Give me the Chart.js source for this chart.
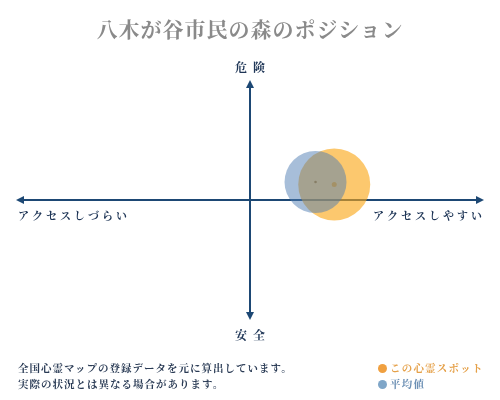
<!DOCTYPE html>
<html>
<head>
<meta charset="utf-8">
<script src="https://cdn.jsdelivr.net/npm/chart.js@4"></script>
<style>
  html, body { margin:0; padding:0; background:#fff; }
  #wrap { position:relative; width:500px; height:400px; overflow:hidden; }
  canvas { position:absolute; left:0; top:0; }
  .t { position:absolute; font-family:"Noto Serif CJK JP","Noto Sans CJK JP",serif; white-space:nowrap; }
  #title { left:0; width:500px; top:13px; text-align:center; font-size:21px; font-weight:bold; color:#8a8a8a; letter-spacing:1px; }
  #note { left:18px; top:360px; font-size:10.5px; font-weight:bold; color:#2a3b55; line-height:16px; letter-spacing:1px; }
  #legend { left:378px; top:360px; font-size:10.5px; line-height:16px; letter-spacing:1.2px; font-weight:bold; }
  .dot { display:inline-block; width:9px; height:9px; border-radius:50%; margin-right:3px; vertical-align:-1px; }
</style>
</head>
<body>
<div id="wrap">
  <canvas id="c" width="500" height="400"></canvas>
  <div class="t" id="title"></div>
  <div class="t" id="note"></div>
  <div class="t" id="legend"></div>
</div>
<script>
// ---- data ----
const chartTitle = "八木が谷市民の森のポジション";
const seriesNames = ["この心霊スポット", "平均値"];
const xValues = [0.36, 0.28];   // アクセスしづらい(-1) ... アクセスしやすい(+1)
const yValues = [0.13, 0.15];   // 安全(-1) ... 危険(+1)
const bubbleSizes = [36, 31];
const axisLabels = { top: "危険", bottom: "安全", left: "アクセスしづらい", right: "アクセスしやすい" };
const noteLines = ["全国心霊マップの登録データを元に算出しています。", "実際の状況とは異なる場合があります。"];

// ---- styles ----
const fillColors = ["rgba(250,166,21,0.62)", "rgba(80,125,180,0.5)"];
const dotColors = ["#f6a21e", "#5a3a1a"];
const dotSizes = [2.5, 1.3];
const legendDot = ["#f0a040", "#7fa6c8"];
const legendText = ["#e5a048", "#6b8fb4"];
const navy = "#1d4874";

document.getElementById("title").textContent = chartTitle;
document.getElementById("note").innerHTML = noteLines.join("<br>");
document.getElementById("legend").innerHTML = seriesNames.map((n, i) =>
  `<div style="color:${legendText[i]}"><span class="dot" style="background:${legendDot[i]}"></span>${n}</div>`).join("");

const order = [1, 0]; // draw average first, this spot on top
const datasets = [];
order.forEach(i => datasets.push({
  label: seriesNames[i],
  data: [{ x: xValues[i], y: yValues[i], r: bubbleSizes[i] }],
  backgroundColor: fillColors[i], borderWidth: 0
}));
order.forEach(i => datasets.push({
  label: seriesNames[i] + " center",
  data: [{ x: xValues[i], y: yValues[i], r: dotSizes[i] }],
  backgroundColor: dotColors[i], borderWidth: 0
}));

const axesPlugin = {
  id: "cross",
  beforeDatasetsDraw(chart) {
    const ctx = chart.ctx, xs = chart.scales.x, ys = chart.scales.y;
    const cx = xs.getPixelForValue(0), cy = ys.getPixelForValue(0);
    const l = xs.getPixelForValue(-1), r = xs.getPixelForValue(1);
    const t = ys.getPixelForValue(1), b = ys.getPixelForValue(-1);
    ctx.save();
    ctx.strokeStyle = navy; ctx.fillStyle = navy; ctx.lineWidth = 2;
    ctx.beginPath();
    ctx.moveTo(l + 4, cy); ctx.lineTo(r - 4, cy);
    ctx.moveTo(cx, t + 4); ctx.lineTo(cx, b - 4);
    ctx.stroke();
    const tri = (pts) => { ctx.beginPath(); ctx.moveTo(...pts[0]); ctx.lineTo(...pts[1]); ctx.lineTo(...pts[2]); ctx.closePath(); ctx.fill(); };
    tri([[l, cy], [l + 8, cy - 4], [l + 8, cy + 4]]);
    tri([[r, cy], [r - 8, cy - 4], [r - 8, cy + 4]]);
    tri([[cx, t], [cx - 4, t + 8], [cx + 4, t + 8]]);
    tri([[cx, b], [cx - 4, b - 8], [cx + 4, b - 8]]);
    // labels
    ctx.fillStyle = "#1e3556";
    ctx.textBaseline = "middle";
    ctx.font = 'bold 12px "Noto Serif CJK JP","Noto Sans CJK JP",serif';
    ctx.letterSpacing = "6px";
    ctx.textAlign = "center";
    ctx.fillText(axisLabels.top, cx + 3, t - 13);
    ctx.fillText(axisLabels.bottom, cx + 3, b + 15);
    ctx.font = 'bold 11px "Noto Serif CJK JP","Noto Sans CJK JP",serif';
    ctx.letterSpacing = "3px";
    ctx.textAlign = "left";
    ctx.fillText(axisLabels.left, l + 2, cy + 16);
    ctx.textAlign = "right";
    ctx.fillText(axisLabels.right, r + 1, cy + 16);
    ctx.restore();
  }
};

new Chart(document.getElementById("c"), {
  type: "bubble",
  data: { datasets },
  options: {
    responsive: false,
    animation: false,
    layout: { autoPadding: false, padding: { left: 16, right: 16, top: 80, bottom: 80 } },
    scales: {
      x: { display: false, min: -1, max: 1 },
      y: { display: false, min: -1, max: 1 }
    },
    plugins: { legend: { display: false }, tooltip: { enabled: false }, title: { display: false } },
    clip: false
  },
  plugins: [axesPlugin]
});
</script>
</body>
</html>
